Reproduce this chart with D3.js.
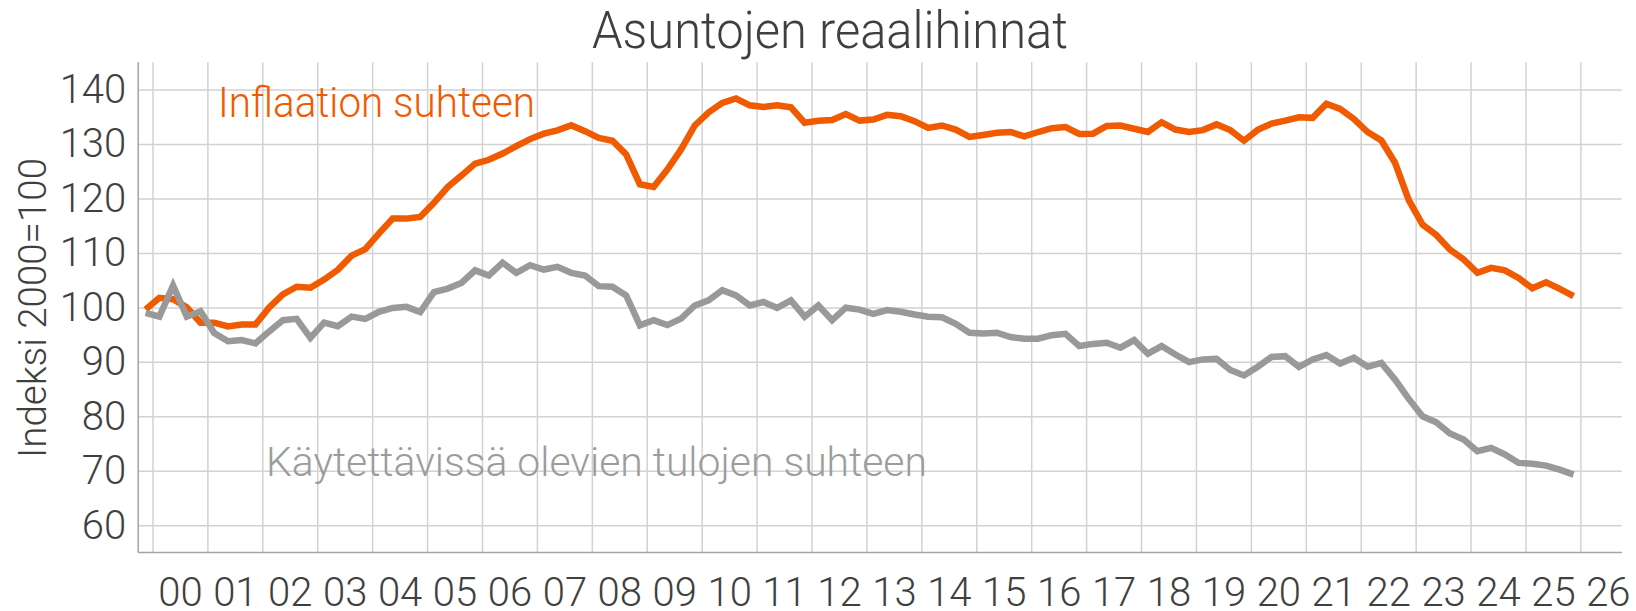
<!DOCTYPE html>
<meta charset="UTF-8">
<head>
<script src="https://d3js.org/d3.v7.min.js"></script>
</head>
<style>

body {
  margin: 0;
  background: #fff;
}

text {
  font-family: Roboto, "Open Sans", sans-serif;
  font-weight: 300;
}

.grid line {
  stroke: #d2d2d2;
  stroke-width: 1.5px;
}

.axisline {
  stroke: #a3a3a3;
  stroke-width: 1.5px;
}

.line {
  fill: none;
  stroke-width: 6.5px;
}

</style>
<body>

<div id='chart'></div>

<script>

// quarterly series, first point 1999Q4, last 2025Q4 (index 2000=100)
var firstYear = 1999, firstQuarter = 4;

var inflation = [
  99.6,
  101.75, 101.5, 100.0, 97.2,
  97.2, 96.5, 96.85, 96.85,
  100.0, 102.4, 103.8, 103.6,
  105.1, 106.9, 109.5, 110.7,
  113.6, 116.3, 116.3, 116.6,
  119.2, 122.1, 124.2, 126.4,
  127.1, 128.25, 129.6, 130.9,
  131.9, 132.5, 133.45, 132.35,
  131.1, 130.6, 128.1, 122.6,
  122.1, 125.3, 129.0, 133.4,
  135.8, 137.55, 138.35, 137.1,
  136.8, 137.1, 136.75, 133.9,
  134.25, 134.4, 135.5, 134.3,
  134.5, 135.35, 135.1, 134.2,
  132.95, 133.4, 132.65, 131.3,
  131.65, 132.05, 132.2, 131.4,
  132.2, 132.9, 133.1, 131.85,
  131.9, 133.3, 133.4, 132.8,
  132.2, 134.0, 132.65, 132.2,
  132.55, 133.6, 132.55, 130.6,
  132.6, 133.75, 134.3, 134.9,
  134.8, 137.4, 136.45, 134.6,
  132.2, 130.65, 126.55, 119.7,
  115.2, 113.3, 110.6, 108.8,
  106.35, 107.25, 106.8, 105.4,
  103.5, 104.6, 103.4, 102.05
];

var income = [
  99.0,
  98.3, 104.0, 98.3, 99.3,
  95.3, 93.8, 94.0, 93.4,
  95.6, 97.65, 97.9, 94.4,
  97.2, 96.55, 98.3, 97.9,
  99.2, 99.9, 100.1, 99.15,
  102.8, 103.45, 104.5, 106.8,
  105.85, 108.2, 106.35, 107.75,
  106.95, 107.45, 106.35, 105.85,
  103.9, 103.8, 102.2, 96.7,
  97.65, 96.75, 97.95, 100.35,
  101.3, 103.15, 102.2, 100.35,
  101.0, 99.9, 101.3, 98.3,
  100.35, 97.65, 99.95, 99.6,
  98.8, 99.5, 99.2, 98.7,
  98.3, 98.2, 97.0, 95.35,
  95.2, 95.35, 94.55, 94.25,
  94.25, 94.9, 95.15, 92.9,
  93.3, 93.5, 92.6, 94.0,
  91.5, 92.9, 91.35, 89.95,
  90.45, 90.55, 88.5, 87.5,
  89.1, 90.9, 91.05, 89.1,
  90.45, 91.25, 89.7, 90.75,
  89.1, 89.8, 86.75, 83.2,
  80.0, 78.9, 76.85, 75.75,
  73.6, 74.2, 73.0, 71.45,
  71.3, 70.95, 70.2, 69.3
];

var yearTicks = d3.range(2000, 2027);
var yearLabels = ["00","01","02","03","04","05","06","07","08","09","10","11","12",
                  "13","14","15","16","17","18","19","20","21","22","23","24","25","26"];
var yTicks = [60, 70, 80, 90, 100, 110, 120, 130, 140];

var title = "Asuntojen reaalihinnat";
var yTitle = "Indeksi 2000=100";
var label1 = "Inflaation suhteen";
var label2 = "Käytettävissä olevien tulojen suhteen";

// page size and plot area
var W = 1636, H = 611;
var plotL = 138.2, plotR = 1621.8, plotT = 62.3, plotB = 552.5;

var svg = d3.select("#chart").append("svg")
    .attr("width", W)
    .attr("height", H);

var x = d3.scaleLinear().domain([1999.74, 2026.754]).range([plotL, plotR]);
var y = d3.scaleLinear().domain([55, 145]).range([plotB, plotT]);

// quarter midpoint as decimal year
function qx(i) {
  var q = firstQuarter - 1 + i;
  return firstYear + Math.floor(q / 4) + (q % 4) / 4 + 0.125;
}

// vertical grid (year boundaries)
svg.append("g")
    .attr("class", "grid")
    .attr("transform", "translate(0," + plotB + ")")
    .call(d3.axisBottom(x).tickValues(yearTicks).tickSize(-(plotB - plotT)).tickFormat(""))
    .call(function(g) { g.select(".domain").remove(); });

// horizontal grid
svg.append("g")
    .attr("class", "grid")
    .attr("transform", "translate(" + plotL + ",0)")
    .call(d3.axisLeft(y).tickValues(yTicks).tickSize(-(plotR - plotL)).tickFormat(""))
    .call(function(g) { g.select(".domain").remove(); });

// axis lines
svg.append("line").attr("class", "axisline")
    .attr("x1", plotL).attr("x2", plotL).attr("y1", plotT).attr("y2", plotB);
svg.append("line").attr("class", "axisline")
    .attr("x1", plotL).attr("x2", plotR).attr("y1", plotB).attr("y2", plotB);

// y tick labels
var yAxis = svg.append("g")
    .attr("transform", "translate(" + plotL + ",0)")
    .call(d3.axisLeft(y).tickValues(yTicks).tickSize(0).tickPadding(12));
yAxis.select(".domain").remove();
yAxis.selectAll("text")
    .attr("fill", "#3f3f3f")
    .style("font-size", "40px")
    .style("font-family", "Roboto, sans-serif")
    .style("font-weight", 300);

// x tick labels, centred in each year
var xAxis = svg.append("g")
    .attr("transform", "translate(0," + plotB + ")")
    .call(d3.axisBottom(x).tickValues(yearTicks.map(function(d) { return d + 0.5; }))
      .tickSize(0).tickPadding(0)
      .tickFormat(function(d, i) { return yearLabels[i]; }));
xAxis.select(".domain").remove();
xAxis.selectAll("text")
    .attr("y", 53)
    .attr("dy", 0)
    .attr("fill", "#3f3f3f")
    .style("font-size", "40px")
    .style("font-family", "Roboto, sans-serif")
    .style("font-weight", 300);

// lines
var line = d3.line()
    .x(function(d, i) { return x(qx(i)); })
    .y(function(d) { return y(d); });

svg.append("path")
    .datum(inflation)
    .attr("class", "line")
    .attr("stroke", "#f05a00")
    .attr("d", line);

svg.append("path")
    .datum(income)
    .attr("class", "line")
    .attr("stroke", "#999999")
    .attr("d", line);

// series labels
svg.append("text")
    .attr("x", 218).attr("y", 117)
    .attr("fill", "#f05a00")
    .attr("textLength", 317).attr("lengthAdjust", "spacingAndGlyphs")
    .style("font-size", "42px")
    .text(label1);

svg.append("text")
    .attr("x", 266).attr("y", 476)
    .attr("fill", "#9c9c9c")
    .attr("textLength", 661).attr("lengthAdjust", "spacingAndGlyphs")
    .style("font-size", "41px")
    .text(label2);

// title
svg.append("text")
    .attr("x", 592).attr("y", 48)
    .attr("fill", "#3f3f3f")
    .attr("textLength", 476).attr("lengthAdjust", "spacingAndGlyphs")
    .style("font-size", "52px")
    .text(title);

// y axis title
svg.append("text")
    .attr("transform", "translate(46,308) rotate(-90)")
    .attr("text-anchor", "middle")
    .attr("fill", "#3f3f3f")
    .attr("textLength", 300).attr("lengthAdjust", "spacingAndGlyphs")
    .style("font-size", "39px")
    .text(yTitle);

</script>
</body>
